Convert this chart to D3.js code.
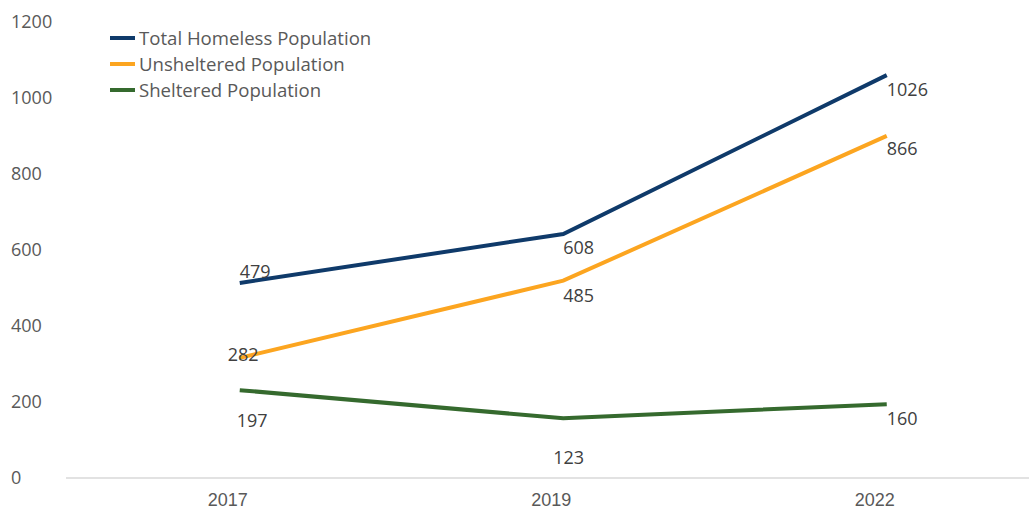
<!DOCTYPE html>
<html>
<head>
<meta charset="utf-8">
<script src="https://cdn.jsdelivr.net/npm/d3@7"></script>
<style>
  body { margin: 0; background: #fff; }
  svg { display: block; font-family: "Open Sans", "Noto Sans", sans-serif; }
</style>
</head>
<body>
<div class="myLine"></div>
<script>
// data
const years = ['2017', '2019', '2022']
const totalHomeless = [479, 608, 1026]
const unsheltered = [282, 485, 866]
const sheltered = [197, 123, 160]
const yTicks = [0, 200, 400, 600, 800, 1000, 1200]

const series = [
    { name: 'Total Homeless Population', values: totalHomeless, color: '#0f3a6a' },
    { name: 'Unsheltered Population', values: unsheltered, color: '#fca520' },
    { name: 'Sheltered Population', values: sheltered, color: '#356a2e' }
]

var width = 1029
var height = 513

var svg = d3
    .select('.myLine')
    .append('svg')
    .attr('width', width)
    .attr('height', height)

var xScale = d3.scaleBand().range([66, 1036.5]).domain(years)
var yScale = d3.scaleLinear().range([478, 22]).domain([0, 1200])

// y tick labels (no axis line in the original)
svg.append('g')
    .selectAll('text')
    .data(yTicks)
    .join('text')
    .attr('x', 11)
    .attr('y', (d) => yScale(d))
    .attr('dy', '0.36em')
    .style('font-size', '18px')
    .style('fill', '#595959')
    .text((d) => d)

// x axis
const xAxis = d3.axisBottom(xScale).tickSize(0).tickPadding(15)
const xg = svg.append('g').attr('class', 'xAxis').attr('transform', `translate(0, ${yScale(0)})`).call(xAxis)
xg.select('.domain').attr('d', `M66,0H${width}`).attr('stroke', '#d9d9d9').attr('stroke-width', 1.5)
xg.selectAll('text').style('font-size', '18px').style('fill', '#595959').style('font-family', 'inherit')

// the plotted lines sit slightly right of and above their axis positions in the original
var lines = svg.append('g').attr('transform', 'translate(12, -13)')

const line = d3.line()
    .x((d, i) => xScale(years[i]) + xScale.bandwidth() / 2)
    .y((d) => yScale(d))

lines.selectAll('path')
    .data(series)
    .join('path')
    .attr('d', (s) => line(s.values))
    .attr('fill', 'none')
    .attr('stroke', (s) => s.color)
    .attr('stroke-width', 4)

// data labels, mostly to the right of the point, a few nudged
const nudge = {
    '0-0': [12, -24], '1-0': [0, -16], '2-0': [9, 17],
    '0-1': [12, 1], '1-1': [12, 2], '2-1': [2, 26],
    '0-2': [12, 1], '1-2': [12, 0], '2-2': [12, 1]
}
series.forEach((s, si) => {
    svg.append('g')
        .selectAll('text')
        .data(s.values)
        .join('text')
        .attr('x', (d, i) => xScale(years[i]) + xScale.bandwidth() / 2 + nudge[si + '-' + i][0])
        .attr('y', (d, i) => yScale(d) + nudge[si + '-' + i][1])
        .attr('dy', '0.36em')
        .style('font-size', '18px')
        .style('fill', '#404040')
        .text((d) => d)
})

// legend
var legend = svg.append('g').attr('transform', 'translate(110, 38)')
const rows = legend.selectAll('g')
    .data(series)
    .join('g')
    .attr('transform', (d, i) => `translate(0, ${i * 26})`)
rows.append('line')
    .attr('x1', 0).attr('x2', 25)
    .attr('stroke', (d) => d.color)
    .attr('stroke-width', 4)
rows.append('text')
    .attr('x', 29)
    .attr('dy', '0.36em')
    .style('font-size', '18.6px')
    .style('fill', '#595959')
    .text((d) => d.name)
</script>
</body>
</html>
